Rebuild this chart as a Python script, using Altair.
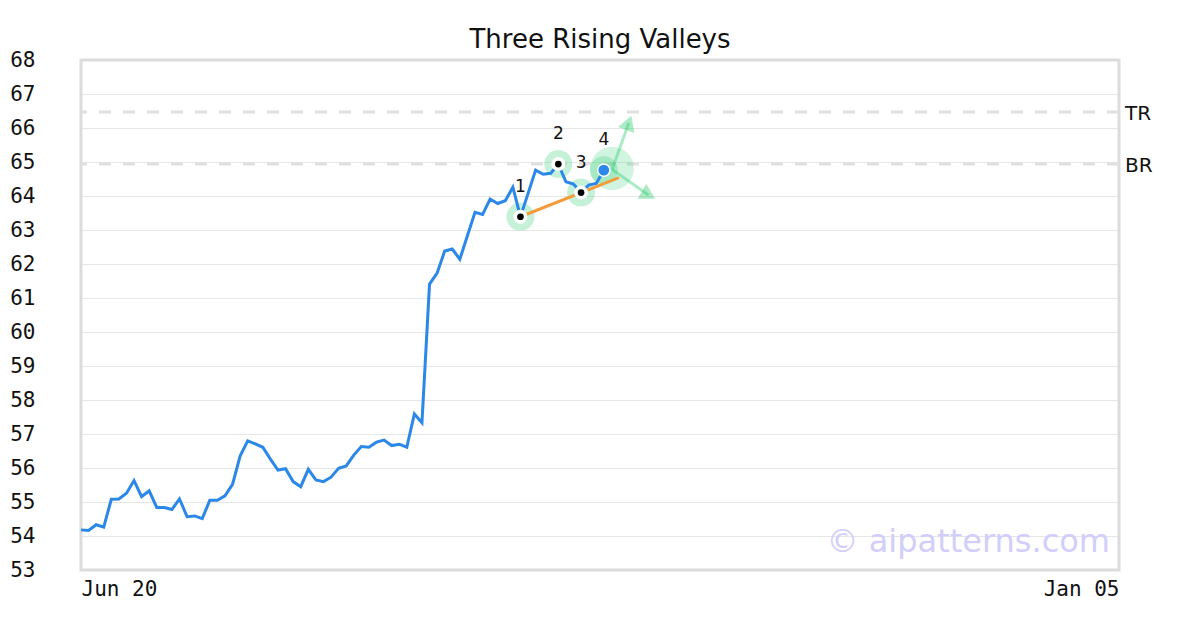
import altair as alt
import pandas as pd

# ---------------- data ----------------
price = [54.18, 54.16, 54.33, 54.26, 55.08, 55.09, 55.26, 55.63, 55.16, 55.33,
         54.84, 54.84, 54.78, 55.09, 54.57, 54.59, 54.51, 55.05, 55.05, 55.18,
         55.52, 56.35, 56.80, 56.71, 56.61, 56.26, 55.94, 55.98, 55.60, 55.45,
         55.96, 55.65, 55.60, 55.73, 55.99, 56.06, 56.38, 56.63, 56.61, 56.76,
         56.82, 56.66, 56.70, 56.61, 57.59, 57.33, 61.41, 61.73, 62.38, 62.44,
         62.14, 62.83, 63.52, 63.46, 63.91, 63.78, 63.86, 64.26, 63.39, 64.07,
         64.76, 64.64, 64.67, 64.94, 64.42, 64.35, 64.10, 64.32, 64.37, 64.76]
bar_index = list(range(len(price)))

x_tick_values = [0, 137]
x_tick_labels = ["Jun 20", "Jan 05"]
y_range = [53, 68]

pivot_index = [58, 63, 66, 69]
pivot_value = [63.39, 64.94, 64.10, 64.76]
pivot_label = ["1", "2", "3", "4"]

trend_index = [58, 71]
trend_value = [63.39, 64.54]

level_name = ["TR", "BR"]
level_value = [66.47, 64.94]

focus_index = [70.1]
focus_value = [64.81]

arrow_name = ["up", "down"]
arrow_start_index = [70.1, 70.1]
arrow_start_value = [64.78, 64.78]
arrow_end_index = [72.3, 74.9]
arrow_end_value = [66.15, 64.03]
arrow_angle = [20, 120]

watermark = "© aipatterns.com"
title = "Three Rising Valleys"

# ---------------- tables ----------------
df_price = pd.DataFrame({"i": bar_index, "v": price})
df_piv = pd.DataFrame({"i": pivot_index, "v": pivot_value, "lab": pivot_label})
df_valley = df_piv[df_piv["lab"] != "4"]
df_last = df_piv[df_piv["lab"] == "4"]
df_trend = pd.DataFrame({"i": trend_index, "v": trend_value})
df_level = pd.DataFrame({"name": level_name, "v": level_value})
df_focus = pd.DataFrame({"i": focus_index, "v": focus_value})
df_arrow = pd.DataFrame({"name": arrow_name, "i": arrow_start_index, "v": arrow_start_value,
                         "i2": arrow_end_index, "v2": arrow_end_value, "ang": arrow_angle})

W, H = 1038, 510
MONO = "DejaVu Sans Mono"
SANS = "DejaVu Sans"
GREEN = "#2ecc71"

label_expr = " : ".join(
    [f"datum.value == {v} ? '{l}'" for v, l in zip(x_tick_values, x_tick_labels)] + ["''"]
)

xs = alt.Scale(domain=[x_tick_values[0], x_tick_values[-1]], nice=False, zero=False)
ys = alt.Scale(domain=y_range, nice=False, zero=False)


def X(field="i"):
    return alt.X(f"{field}:Q", scale=xs, title=None,
                 axis=alt.Axis(values=x_tick_values, labelExpr=label_expr, grid=False,
                               ticks=False, domain=False, labelFont=MONO, labelFontSize=21,
                               labelColor="#111", labelPadding=8, labelFlush=True))


def Y(field="v"):
    return alt.Y(f"{field}:Q", scale=ys, title=None,
                 axis=alt.Axis(values=list(range(y_range[0], y_range[1] + 1)), grid=True,
                               gridColor="#e6e6e6", gridWidth=1, ticks=False, domain=False,
                               labelFont=MONO, labelFontSize=21, labelColor="#111",
                               labelPadding=46, labelBaseline="middle"))


frame = alt.Chart(df_level.head(1)).mark_rect(filled=False, stroke="#dcdcdc",
                                              strokeWidth=3).encode(
    x=alt.value(0), x2=alt.value(W), y=alt.value(0), y2=alt.value(H))

levels = alt.Chart(df_level).mark_rule(color="#e0e0e0", strokeWidth=3, strokeDash=[12, 12]).encode(
    y=Y())
level_text = alt.Chart(df_level).mark_text(align="left", baseline="middle", font=SANS,
                                           fontSize=20, color="#111", dy=2).encode(
    x=alt.value(W + 6), y=Y(), text="name:N")

halo = alt.Chart(df_piv).mark_point(shape="circle", filled=True, size=784, color=GREEN,
                                    opacity=0.27).encode(x=X(), y=Y())
focus = alt.Chart(df_focus).mark_point(shape="circle", filled=True, size=1900, color=GREEN,
                                       opacity=0.22).encode(x=X(), y=Y())

line = alt.Chart(df_price).mark_line(color="#2b87e8", strokeWidth=3).encode(x=X(), y=Y())
trend = alt.Chart(df_trend).mark_line(color="#f39c3c", strokeWidth=3).encode(x=X(), y=Y())

ring = alt.Chart(df_valley).mark_point(shape="circle", filled=True, size=196, color="white",
                                       opacity=1).encode(x=X(), y=Y())
dot = alt.Chart(df_valley).mark_point(shape="circle", filled=True, size=45, color="black",
                                      opacity=1).encode(x=X(), y=Y())
last_dot = alt.Chart(df_last).mark_point(shape="circle", filled=True, size=150, color="#2b87e8",
                                         stroke="white", strokeWidth=1.5, opacity=1).encode(
    x=X(), y=Y())

arrow_line = alt.Chart(df_arrow).mark_rule(color=GREEN, opacity=0.4, strokeWidth=3).encode(
    x=X(), y=Y(), x2="i2:Q", y2="v2:Q")
arrow_head = alt.Chart(df_arrow).mark_point(shape="triangle-up", filled=True, size=300,
                                            color=GREEN, opacity=0.4).encode(
    x=X("i2"), y=Y("v2"), angle=alt.Angle("ang:Q", scale=None))

labels = alt.Chart(df_piv).mark_text(font=SANS, fontSize=17, color="#111", dy=-30,
                                     baseline="middle").encode(x=X(), y=Y(), text="lab:N")

wm = alt.Chart(df_level.head(1)).mark_text(text=watermark, font=SANS, fontSize=32,
                                           color="#d2cefb", align="right",
                                           baseline="middle").encode(
    x=alt.value(W - 9), y=alt.value(H - 28))

chart = alt.layer(frame, levels, level_text, halo, focus, line, trend, ring, dot, last_dot,
                  arrow_line, arrow_head, labels, wm).properties(
    width=W, height=H,
    title=alt.TitleParams(title, font=SANS, fontSize=26, fontWeight="normal", color="#111",
                          anchor="middle", offset=-4),
    autosize=alt.AutoSizeParams(type="none"),
    padding={"left": 73, "top": 52, "right": 73, "bottom": 52},
).configure_view(stroke="transparent").configure(background="white")

chart.save("out.html", embed_options={"renderer": "svg", "actions": False})
